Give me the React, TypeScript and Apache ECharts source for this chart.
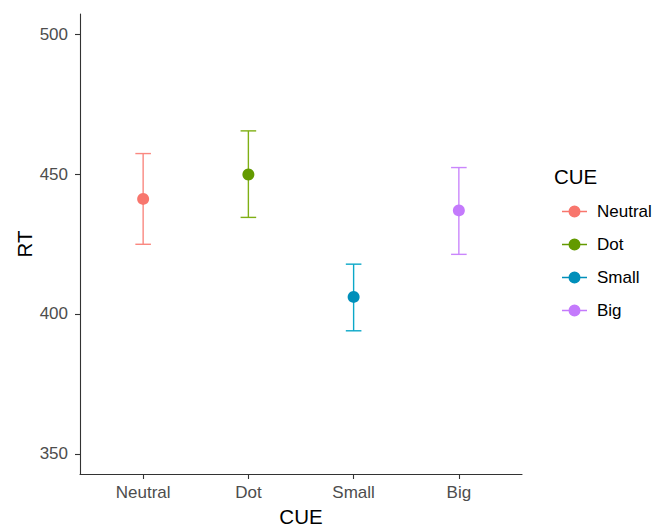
import React, { useEffect, useRef } from "react";
import * as echarts from "echarts";

const categories = ["Neutral", "Dot", "Small", "Big"];
const means = [441.1, 449.8, 406.1, 437.0];
const lower = [424.9, 434.5, 394.0, 421.3];
const upper = [457.3, 465.4, 417.8, 452.3];
const yTicks = [350, 400, 450, 500];
const pointColors = ["#F8766D", "#639A00", "#008FBA", "#C47AFC"];
const lineColors = ["#FA8880", "#7FAF14", "#0BA8C8", "#CA86FC"];

const FONT = "'Liberation Sans', Arial, sans-serif";

export default function App() {
  const ref = useRef<HTMLDivElement>(null);
  useEffect(() => {
    if (!ref.current) return;
    const chart = echarts.init(ref.current, undefined, { renderer: "svg" });
    const xTicks = categories.map((_, i) => i + 1);
    const series = categories.map((name, i) => ({
      name,
      type: "custom",
      color: pointColors[i],
      itemStyle: { color: pointColors[i] },
      data: [[i + 1, lower[i], upper[i], means[i]]],
      encode: { x: 0, y: [1, 2, 3] },
      renderItem: (params: any, api: any) => {
        const x = api.value(0);
        const lo = api.coord([x, api.value(1)]);
        const hi = api.coord([x, api.value(2)]);
        const mid = api.coord([x, api.value(3)]);
        const hw = 7.8;
        const ls = { stroke: lineColors[i], lineWidth: 1.4 };
        return {
          type: "group",
          children: [
            { type: "line", shape: { x1: lo[0], y1: lo[1], x2: hi[0], y2: hi[1] }, style: ls },
            { type: "line", shape: { x1: lo[0] - hw, y1: lo[1], x2: lo[0] + hw, y2: lo[1] }, style: ls },
            { type: "line", shape: { x1: hi[0] - hw, y1: hi[1], x2: hi[0] + hw, y2: hi[1] }, style: ls },
            { type: "circle", shape: { cx: mid[0], cy: mid[1], r: 6 }, style: { fill: pointColors[i] } },
          ],
        };
      },
    }));
    const legendIcon =
      "path://M0,5.3L25,5.3L25,6.7L0,6.7Z M18.5,6A6,6,0,1,1,6.5,6A6,6,0,1,1,18.5,6Z";
    chart.setOption({
      animation: false,
      backgroundColor: "#ffffff",
      grid: { left: 80, top: 14, width: 442, height: 460, containLabel: false },
      xAxis: {
        type: "value",
        min: 0.4,
        max: 4.6,
        splitLine: { show: false },
        axisLine: { show: true, lineStyle: { color: "#333333", width: 1.1 } },
        axisTick: { show: true, customValues: xTicks, length: 5, lineStyle: { color: "#333333", width: 1.1 } },
        axisLabel: {
          customValues: xTicks,
          formatter: (v: number) => categories[Math.round(v) - 1] ?? "",
          color: "#4D4D4D",
          fontSize: 17,
          fontFamily: FONT,
          margin: 10,
        },
      },
      yAxis: {
        type: "value",
        min: 342.857,
        max: 507.143,
        splitLine: { show: false },
        axisLine: { show: true, lineStyle: { color: "#333333", width: 1.1 } },
        axisTick: { show: true, customValues: yTicks, length: 5, lineStyle: { color: "#333333", width: 1.1 } },
        axisLabel: {
          customValues: yTicks,
          color: "#4D4D4D",
          fontSize: 17,
          fontFamily: FONT,
          margin: 12,
        },
      },
      legend: {
        orient: "vertical",
        left: 557,
        top: 198,
        itemWidth: 25,
        itemHeight: 12,
        itemGap: 16,
        data: categories.map((c) => ({ name: c, icon: legendIcon })),
        textStyle: { fontSize: 17, fontFamily: FONT, color: "#000000", padding: [0, 0, 0, 5] },
        selectedMode: false,
      },
      graphic: [
        {
          type: "text",
          x: 24,
          y: 244,
          rotation: Math.PI / 2,
          style: { text: "RT", fontSize: 20.5, fontFamily: FONT, fill: "#000", align: "center", verticalAlign: "middle" },
        },
        {
          type: "text",
          x: 301,
          y: 516,
          style: { text: "CUE", fontSize: 20.5, fontFamily: FONT, fill: "#000", align: "center", verticalAlign: "middle" },
        },
        {
          type: "text",
          x: 554,
          y: 176,
          style: { text: "CUE", fontSize: 20.5, fontFamily: FONT, fill: "#000", align: "left", verticalAlign: "middle" },
        },
      ],
      series,
    });
    return () => chart.dispose();
  }, []);
  return <div ref={ref} style={{ width: 668, height: 527, position: "absolute", left: 0, top: 0 }} />;
}
